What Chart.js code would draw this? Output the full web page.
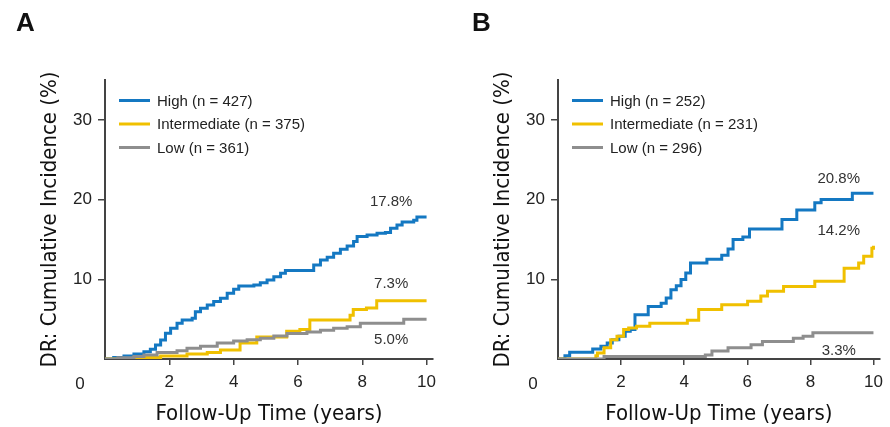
<!DOCTYPE html>
<html>
<head>
<meta charset="utf-8">
<script src="https://cdn.jsdelivr.net/npm/chart.js@4.4.1/dist/chart.umd.min.js"></script>
<style>
  html, body { margin: 0; padding: 0; background: #fff; }
  #wrap { position: relative; width: 890px; height: 427px; }
  .panel { position: absolute; top: 0; width: 445px; height: 427px; }
  #panelA { left: 0; }
  #panelB { left: 445px; }
</style>
</head>
<body>
<div id="wrap">
  <div class="panel" id="panelA"><canvas id="grafikA"></canvas></div>
  <div class="panel" id="panelB"><canvas id="grafikB"></canvas></div>
</div>
<script>
// Veriler (panel A)
const highA_t = [0, 0.27, 0.59, 0.9, 1.21, 1.41, 1.57, 1.73, 1.88, 2.04, 2.24, 2.4, 2.71, 2.81, 2.97, 3.18, 3.38, 3.59, 3.8, 4.0, 4.16, 4.63, 4.83, 5.04, 5.25, 5.46, 5.61, 6.49, 6.7, 6.91, 7.11, 7.32, 7.53, 7.73, 7.84, 8.15, 8.46, 8.72, 8.88, 9.08, 9.24, 9.6, 9.7, 10];
const highA_y = [0, 0.2, 0.38, 0.63, 0.92, 1.21, 1.76, 2.38, 3.22, 3.85, 4.48, 4.9, 5.1, 5.94, 6.36, 6.78, 7.2, 7.61, 8.24, 8.74, 9.16, 9.29, 9.58, 9.92, 10.33, 10.75, 11.09, 11.8, 12.43, 12.76, 13.26, 13.77, 14.18, 14.73, 15.36, 15.57, 15.77, 15.86, 16.4, 16.8, 17.2, 17.4, 17.8, 17.8];
const intA_t = [0, 0.9, 1.73, 2.55, 3.18, 3.59, 4.2, 4.72, 5.65, 6.06, 6.37, 7.62, 7.72, 8.13, 8.45, 10];
const intA_y = [0, 0.2, 0.38, 0.63, 0.8, 1.13, 2.0, 2.76, 3.47, 3.7, 4.9, 5.5, 6.2, 6.4, 7.3, 7.3];
const lowA_t = [0, 0.4, 0.9, 1.21, 1.62, 2.24, 2.55, 2.97, 3.49, 4.0, 4.42, 4.83, 5.25, 5.66, 6.28, 6.7, 7.11, 7.53, 7.94, 9.29, 10];
const lowA_y = [0, 0.15, 0.3, 0.5, 0.8, 1.05, 1.34, 1.6, 2.0, 2.26, 2.4, 2.6, 2.9, 3.2, 3.4, 3.6, 3.85, 4.06, 4.48, 5.0, 5.0];

// Veriler (panel B)
const highB_t = [0, 0.22, 0.37, 1.1, 1.36, 1.56, 1.72, 1.93, 2.13, 2.29, 2.44, 2.86, 3.27, 3.43, 3.58, 3.75, 3.9, 4.05, 4.2, 4.72, 5.19, 5.39, 5.55, 5.86, 6.07, 7.1, 7.57, 8.14, 8.34, 9.33, 10];
const highB_y = [0, 0.4, 0.84, 1.26, 1.6, 2.0, 2.4, 2.85, 3.47, 3.7, 5.56, 6.6, 7.0, 7.66, 8.7, 9.2, 9.96, 10.8, 12.05, 12.5, 13.0, 13.8, 15.0, 15.3, 16.3, 17.5, 18.7, 19.6, 20.0, 20.8, 20.8];
const intB_t = [0, 1.2, 1.25, 1.46, 1.67, 1.87, 2.08, 2.24, 2.49, 2.91, 4.1, 4.46, 5.19, 6.01, 6.43, 6.64, 7.15, 8.14, 9.07, 9.53, 9.69, 9.95, 10];
const intB_y = [0, 0.4, 0.75, 1.4, 2.4, 2.85, 3.7, 3.9, 4.1, 4.5, 4.85, 6.2, 6.8, 7.25, 7.9, 8.5, 9.1, 9.75, 11.4, 12.05, 12.9, 13.9, 14.2];
const lowB_t = [0, 1.46, 4.67, 4.88, 5.39, 6.12, 6.48, 7.46, 7.77, 8.08, 10];
const lowB_y = [0, 0.3, 0.5, 1.0, 1.4, 1.8, 2.2, 2.6, 2.85, 3.3, 3.3];

const etiketlerA = ["High (n = 427)", "Intermediate (n = 375)", "Low (n = 361)"];
const etiketlerB = ["High (n = 252)", "Intermediate (n = 231)", "Low (n = 296)"];
const sonDegerA = ["17.8%", "7.3%", "5.0%"];
const sonDegerB = ["20.8%", "14.2%", "3.3%"];
const xTikler = [2, 4, 6, 8, 10];
const yTikler = [10, 20, 30];

const renkler = ["#1478c2", "#f0c000", "#8e8e8e"];
const narrow = "'Liberation Sans Narrow', 'DejaVu Sans Condensed', sans-serif";
const sans = "'Liberation Sans', Arial, sans-serif";
const yaziRenk = "#222";

function seri(t, y) {
  return t.map((v, i) => ({ x: v, y: y[i] }));
}

// Legend, "0" ve yüzde etiketleri
const ekYazilar = {
  id: "ekYazilar",
  afterDraw(chart, args, opts) {
    const ctx = chart.ctx;
    const { left, top, bottom } = chart.chartArea;
    const xs = chart.scales.x, ys = chart.scales.y;
    ctx.save();
    // panel harfi
    ctx.font = "bold 26px " + sans;
    ctx.fillStyle = "#111";
    ctx.textBaseline = "middle";
    ctx.textAlign = "left";
    ctx.fillText(opts.harf, opts.harfX, 24);
    // legend (High en üstte)
    ctx.font = "15px " + sans;
    chart.data.datasets.slice().reverse().forEach((ds, i) => {
      const ly = top + 20.5 + i * 23.5;
      ctx.strokeStyle = ds.borderColor;
      ctx.lineWidth = 3;
      ctx.beginPath();
      ctx.moveTo(left + 14, ly);
      ctx.lineTo(left + 45, ly);
      ctx.stroke();
      ctx.fillStyle = yaziRenk;
      ctx.fillText(ds.label, left + 52, ly + 1);
    });
    // köşedeki 0
    ctx.font = "17px " + sans;
    ctx.textAlign = "center";
    ctx.fillText("0", left - 25, bottom + 25);
    // son değerler
    ctx.font = "15px " + sans;
    ctx.fillStyle = "#333";
    opts.sonlar.forEach((s, i) => {
      ctx.fillText(s, xs.getPixelForValue(opts.sonX), ys.getPixelForValue(opts.sonY[i]));
    });
    ctx.restore();
  }
};

function grafikCiz(id, veriler, etiketler, sonlar, sonY, harf, harfX, solGenislik, sagBosluk) {
  return new Chart(document.getElementById(id), {
    type: "line",
    data: {
      // çizim sırası ters: High en üstte kalsın
      datasets: veriler.map((d, i) => ({
        label: etiketler[i],
        data: d,
        borderColor: renkler[i],
        borderWidth: 3,
        stepped: "before",
        pointRadius: 0,
        fill: false
      })).reverse()
    },
    options: {
      responsive: false,
      animation: false,
      layout: { padding: { top: 80, right: sagBosluk, bottom: 0, left: 0 } },
      plugins: {
        legend: { display: false },
        tooltip: { enabled: false },
        ekYazilar: { harf, harfX, sonlar, sonX: 8.9, sonY }
      },
      scales: {
        x: {
          type: "linear",
          min: 0,
          max: 10.2,
          afterBuildTicks: s => { s.ticks = xTikler.map(v => ({ value: v })); },
          afterFit: s => { s.height = 68; },
          grid: { drawOnChartArea: false, drawTicks: true, tickLength: 6, color: "#444", lineWidth: 1.5 },
          border: { display: true, color: "#444", width: 2 },
          ticks: { color: yaziRenk, font: { size: 17, family: sans }, padding: 7, maxRotation: 0 },
          title: { display: true, text: "Follow-Up Time (years)", color: "#111", font: { size: 22, family: narrow }, padding: { top: 0, bottom: 0 } }
        },
        y: {
          min: 0,
          max: 35,
          afterBuildTicks: s => { s.ticks = yTikler.map(v => ({ value: v })); },
          afterFit: s => { s.width = solGenislik; },
          grid: { drawOnChartArea: false, drawTicks: true, tickLength: 7, color: "#444", lineWidth: 1.5 },
          border: { display: true, color: "#444", width: 2 },
          ticks: { color: yaziRenk, font: { size: 17, family: sans }, padding: 6 },
          title: { display: true, text: "DR: Cumulative Incidence (%)", color: "#111", font: { size: 22, family: narrow }, padding: { top: solGenislik - 68, bottom: 0 } }
        }
      }
    },
    plugins: [ekYazilar]
  });
}

function boyutla(id) {
  const c = document.getElementById(id);
  c.width = 445; c.height = 427;
  c.style.width = "445px"; c.style.height = "427px";
}
boyutla("grafikA");
boyutla("grafikB");

const grafikA = grafikCiz("grafikA",
  [seri(highA_t, highA_y), seri(intA_t, intA_y), seri(lowA_t, lowA_y)],
  etiketlerA, sonDegerA, [19.7, 9.4, 2.4], "A", 16, 105, 12);
const grafikB = grafikCiz("grafikB",
  [seri(highB_t, highB_y), seri(intB_t, intB_y), seri(lowB_t, lowB_y)],
  etiketlerB, sonDegerB, [22.6, 16.1, 1.0], "B", 27, 113, 4);
</script>
</body>
</html>
